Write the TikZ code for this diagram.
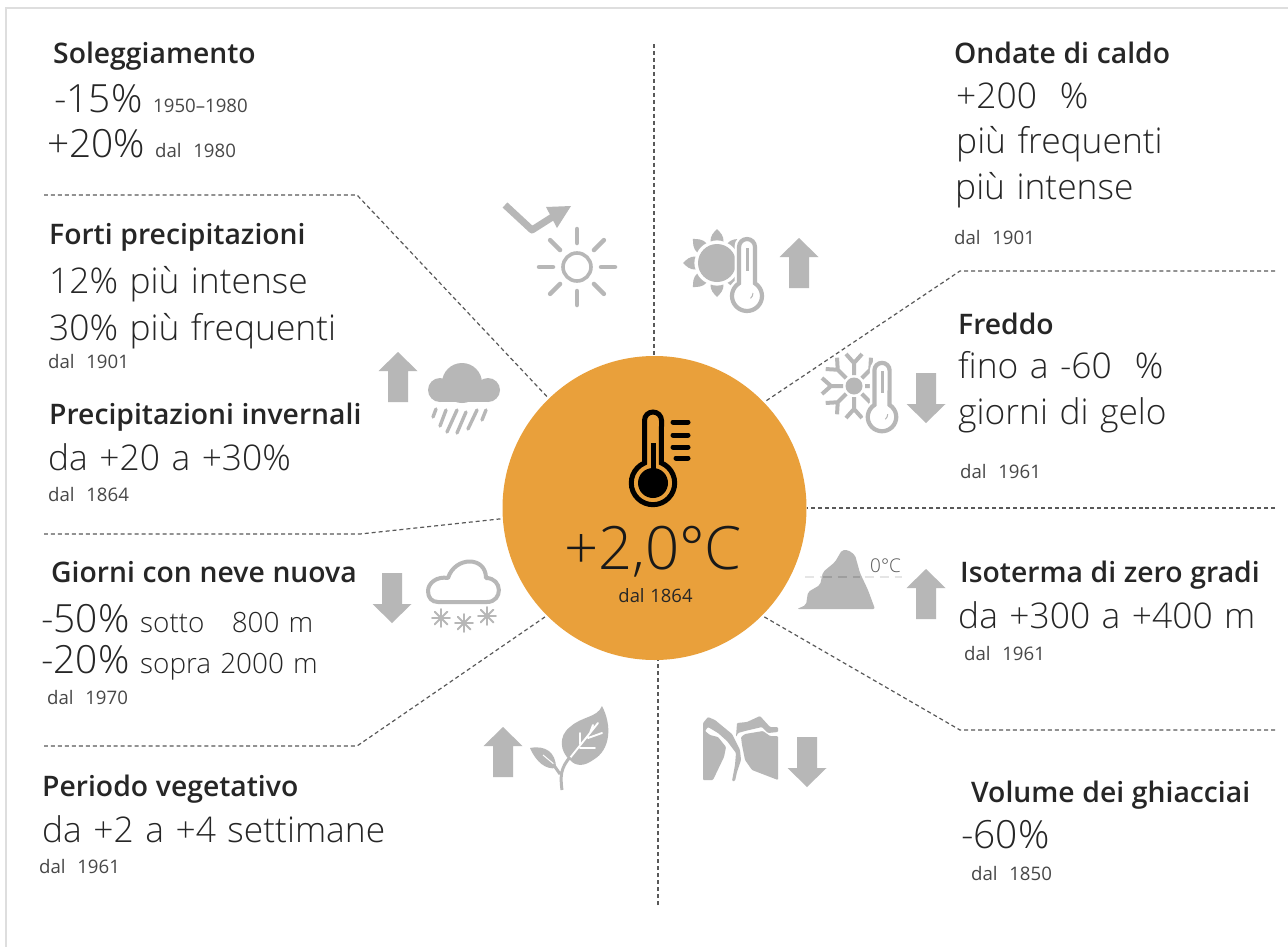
\documentclass[tikz,border=0pt]{standalone}
\usepackage{fontspec}
\setmainfont{Open Sans}[WordSpace=1.2]
\newfontfamily\lightf{Open Sans Light}[WordSpace=1.25]
\IfFontExistsTF{Open Sans Semibold}{\newfontfamily\semif{Open Sans Semibold}[WordSpace=1.05]\newcommand\ttlsize{28.4}}{\newfontfamily\semifb{Open Sans}[WordSpace=1.05]\newcommand\semif{\semifb\bfseries}\newcommand\ttlsize{27}}
\definecolor{ink}{HTML}{262626}
\definecolor{iconc}{HTML}{B7B7B7}
\definecolor{disc}{HTML}{E9A03B}
\tikzset{
 ttl/.style={anchor=base west,inner sep=0,text=ink,font=\fontsize{\ttlsize}{\ttlsize}\semif\selectfont},
 big/.style={anchor=base west,inner sep=0,text=ink,font=\lightf\fontsize{35.5}{35.5}\selectfont},
 num/.style={anchor=base west,inner sep=0,text=ink,font=\lightf\fontsize{39}{39}\selectfont},
 mid/.style={anchor=base west,inner sep=0,text=ink,font=\lightf\fontsize{28}{28}\selectfont},
 sml/.style={anchor=base west,inner sep=0,text=ink!85,font=\fontsize{18.7}{18.7}\selectfont},
 dl/.style={draw=black!65,line width=1.2bp,dash pattern=on 4pt off 3pt},
 ic/.style={fill=iconc,draw=none},
 icl/.style={draw=iconc,line cap=round},
}
\newcommand\ArrUp[2]{\fill[ic,shift={(#1,#2)}] (0,0)--(19.5,19)--(10,19)--(10,50)--(-10,50)--(-10,19)--(-19.5,19)--cycle;}
\newcommand\ArrDn[2]{\fill[ic,shift={(#1,#2)}] (0,50)--(19.5,31)--(10,31)--(10,0)--(-10,0)--(-10,31)--(-19.5,31)--cycle;}
\newcommand\ThermoShape{(-8,-12.7) arc[start angle=237.8,end angle=-57.8,radius=15] -- (8,-49) arc[start angle=0,end angle=-180,radius=8] -- cycle}
\newcommand\Thermo[3]{\begin{scope}[shift={(#1,#2)},scale=#3]
 \draw[white,fill=white,line width=9bp] \ThermoShape;
 \draw[iconc,fill=white,line width=4.2bp] \ThermoShape;
 \draw[iconc,line width=3bp] (0,-48)--(0,-25);
 \draw[iconc,line width=1bp] (6,-3) arc[start angle=0,end angle=50,radius=7];
\end{scope}}
\newcommand\Flake[2]{\begin{scope}[shift={(#1,#2)}]
 \foreach \a in {0,45,...,315} {\draw[icl,line width=1.8bp] (0,0)--(\a:9);}
\end{scope}}
\begin{document}
\begin{tikzpicture}[x=1bp,y=-1bp]
\useasboundingbox (0,0) rectangle (1288,947);
\fill[white] (0,0) rectangle (1288,947);
\draw[black!13,line width=1.2bp] (6,947)--(6,8)--(1288,8);
% disc
\node[circle,fill=disc,minimum size=304bp,inner sep=0] (c) at (654.5,508) {};
% connector ends
\coordinate (t) at (654,44); \coordinate (b) at (658,905); \coordinate (r) at (1275,508);
\coordinate (ul1) at (44,195); \coordinate (ul2) at (357,195);
\coordinate (l1) at (44,534); \coordinate (l2) at (360,534);
\coordinate (ll1) at (44,746); \coordinate (ll2) at (357,746);
\coordinate (ur1) at (1275,271); \coordinate (ur2) at (960,271);
\coordinate (lr1) at (1275,730); \coordinate (lr2) at (960,730);
\draw[dl] (t)--(c.north -| t);
\draw[dl] (b)--(658,660);
\draw[dl] (r)--(c.east);
\draw[dl] (ul1)--(ul2)--(c.134.5);
\draw[dl] (l1)--(l2)--(c.184);
\draw[dl] (ll1)--(ll2)--(c.225);
\draw[dl] (ur1)--(ur2)--(c.44.5);
\draw[dl] (lr1)--(lr2)--(c.-45);
% central thermometer
\begin{scope}[shift={(653,483)}]
 \draw[black,line width=5bp] (-8.5,-20) arc[start angle=247,end angle=-67,radius=21.7] -- (8.5,-62.5) arc[start angle=0,end angle=-180,radius=8.5] -- cycle;
 \fill[black] (0,0) circle (15);
 \draw[black,line width=5bp] (0,-40)--(0,0);
 \foreach \yy/\xa in {-61/20,-48/20,-36/20,-25/23} {\draw[black,line width=5bp,line cap=round] (\xa,\yy)--(35,\yy);}
\end{scope}
\node[anchor=base,inner sep=0,text=black!90,font=\lightf\fontsize{60}{60}\selectfont] (deg) at (653,569) {+2,0°C};
\node[anchor=base,inner sep=0,text=ink,font=\fontsize{18.5}{18.5}\selectfont] (dal) at (655.5,602) {dal 1864};
% arrows
\ArrUp{398}{352} \ArrUp{799}{238} \ArrDn{926}{373} \ArrDn{392}{573} \ArrUp{503}{727} \ArrUp{926}{569} \ArrDn{807}{737}
% sun with trend arrow
\draw[iconc,line width=7bp,line join=round] (505,205)--(532,230)--(554,216);
\fill[ic] (571,206)--(546,207)--(557,228)--cycle;
\draw[iconc,line width=3.6bp] (577,267) circle (14);
\foreach \a in {0,45,...,315} {\draw[icl,line width=4.5bp] (577,267) ++(\a:24)--++(\a:14);}
% heat icon
\fill[ic] (717,263) circle (19);
\foreach \a in {0,45,...,315} {\begin{scope}[shift={(717,263)},rotate=\a]
 \fill[ic] (21.5,-6.5) .. controls (27,-7) and (31,-3) .. (34,0) .. controls (31,3) and (27,7) .. (21.5,6.5) .. controls (23,3) and (23,-3) .. (21.5,-6.5) -- cycle;
\end{scope}}
\Thermo{747}{296}{1}
% cold icon
\begin{scope}[shift={(854,386)}]
 \fill[ic] (0,0) circle (8.5);
 \foreach \a in {0,45,...,315} {\begin{scope}[rotate=\a]
  \draw[iconc,line width=4bp] (11,0)--(24,0) (32,-8)--(23,0)--(32,8);
 \end{scope}}
\end{scope}
\Thermo{882}{417}{.95}
% rain cloud
\fill[ic] (462,383) circle (20);
\fill[ic] (440,390) circle (12);
\fill[ic] (488,390) circle (12);
\fill[ic] (440,386) rectangle (488,402);
\foreach \xa/\ya/\xb/\yb in {436/409/433/417,446/410/440/426,457/410/447/432,466/412/457/433,477/410/468/429,486/410/482/420}
 {\draw[icl,line width=3.4bp] (\xa,\ya)--(\xb,\yb);}
% snow cloud
\draw[iconc,line width=4bp,line join=round] (438,602)--(487,602) .. controls (503,602) and (503,578) .. (486,578) .. controls (486,556) and (455,556) .. (448,578) .. controls (437,576) and (428,583) .. (428,591) .. controls (428,598) and (432,602) .. (438,602) -- cycle;
\Flake{441}{618} \Flake{464}{623} \Flake{487}{616}
% leaf
\fill[ic] (602,706) .. controls (612,725) and (611,750) .. (593,760) .. controls (585,766) and (576,767) .. (570,760) .. controls (560,752) and (558,736) .. (570,727) .. controls (582,716) and (597,718) .. (602,706) -- cycle;
\fill[ic] (530,748) .. controls (545,745) and (556,752) .. (556,768) .. controls (546,770) and (536,762) .. (530,748) -- cycle;
\draw[white,line width=1.9bp,line cap=round] (570,758)--(598,723) (580,748)--(595,748) (588,738)--(602,733) (580,744)--(580,733) (590,733)--(593,725);
\draw[white,line width=1bp] (543,755)--(555,765);
\draw[iconc,line width=3bp] (562,790) .. controls (560,775) and (561,768) .. (570,757) (553,764)--(560,774);
% mountain
\draw[black!10,line width=2bp,dash pattern=on 9pt off 6pt] (805,577)--(902,577);
\fill[ic,rounded corners=2bp] (797,609)--(806,605)--(808,592)--(820,585)--(823,572)--(835,562)--(842,550)--(848,550)--(855,555)--(860,573)--(868,590)--(875,609)--cycle;
\draw[black!38,line width=2bp,dash pattern=on 9pt off 6pt] (823,577)--(860,577);
\node[anchor=base west,inner sep=0,text=black!65,font=\lightf\fontsize{19}{19}\selectfont] (zero) at (870,572) {0°C};
% glacier
\fill[ic,rounded corners=1bp] (703,780)--(703,723)--(708,717)--(715,720)--(732,734)--(740,750)--(741,760)--(737,772)--(735,781)--(732,781)--(735,765)--(736,753)--(727,741)--(718,733)--(708,727)--(705,731)--(710,735)--(718,737)--(726,747)--(724,757)--(713,780)--cycle;
\fill[ic,rounded corners=1bp] (741,737)--(742,745)--(745,760)--(752,770)--(778,780)--(778,736)--(770,736)--(763,731)--(745,734)--cycle;
\fill[ic,rounded corners=1bp] (736,737)--(737,723)--(747,722)--(760,716)--(770,727)--(778,727)--(778,732)--(768,733)--(762,727)--(745,731)--(738,733)--cycle;
% left texts
\node[ttl] (a1) at (53,63) {Soleggiamento};
\node[num] (a2) at (54,112) {-15\%};
\node[sml] (a3) at (153,112) {1950–1980};
\node[num] (a4) at (47,157) {+20\%};
\node[sml] (a5) at (155,157) {dal\ \ 1980};
\node[ttl] (b1) at (49,244) {Forti precipitazioni};
\node[big] (b2) at (49,293) {12\% più intense};
\node[big] (b3) at (49,340) {30\% più frequenti};
\node[sml] (b4) at (48,368) {dal\ \ 1901};
\node[ttl] (b5) at (49,424) {Precipitazioni invernali};
\node[big] (b6) at (48,470) {da +20 a +30\%};
\node[sml] (b7) at (48,501) {dal\ \ 1864};
\node[ttl] (d1) at (51,582) {Giorni con neve nuova};
\node[num] (d2) at (41,632) {-50\%};
\node[mid] (d3) at (140,632) {sotto\ \ \ 800 m};
\node[num] (d4) at (41,673) {-20\%};
\node[mid] (d5) at (140,673) {sopra 2000 m};
\node[sml] (d6) at (47,704) {dal\ \ 1970};
\node[ttl] (e1) at (42,796) {Periodo vegetativo};
\node[big] (e2) at (42,842) {da +2 a +4 settimane};
\node[sml] (e3) at (39,873) {dal\ \ 1961};
% right texts
\node[ttl] (f1) at (954,63) {Ondate di caldo};
\node[big] (f2) at (956,108) {+200\ \ \%};
\node[big] (f3) at (956,153) {più frequenti};
\node[big] (f4) at (955,199) {più intense};
\node[sml] (f5) at (954,244) {dal\ \ 1901};
\node[ttl] (g1) at (958,334) {Freddo};
\node[big] (g2) at (958,378) {fino a -60\ \ \%};
\node[big] (g3) at (958,424) {giorni di gelo};
\node[sml] (g4) at (960,478) {dal\ \ 1961};
\node[ttl] (h1) at (960,582) {Isoterma di zero gradi};
\node[big] (h2) at (958,628) {da +300 a +400 m};
\node[sml] (h3) at (964,660) {dal\ \ 1961};
\node[ttl] (j1) at (971,802) {Volume dei ghiacciai};
\node[num] (j2) at (961,848) {-60\%};
\node[sml] (j3) at (971,880) {dal\ \ 1850};
\end{tikzpicture}
\end{document}
